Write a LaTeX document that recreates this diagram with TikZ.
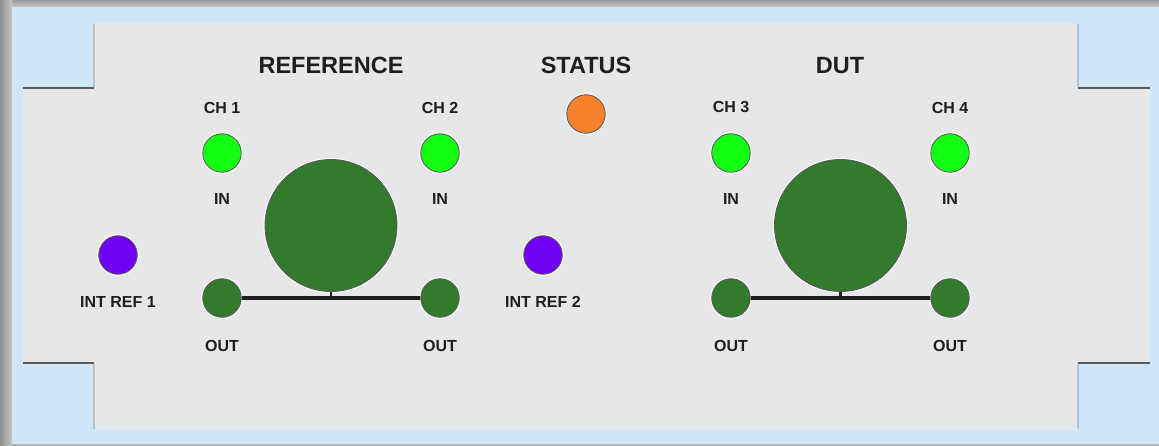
\documentclass[tikz,border=0pt]{standalone}
\usepackage{fontspec}
\setmainfont{Liberation Sans}
\definecolor{bgblue}{HTML}{CFE5F8}
\definecolor{panelgray}{HTML}{E6E7E9}
\definecolor{ledgreen}{HTML}{14FF14}
\definecolor{darkgreen}{HTML}{327A2C}
\definecolor{ledorange}{HTML}{F7802B}
\definecolor{ledpurple}{HTML}{7000F5}
\definecolor{txt}{HTML}{1E1E1E}
\definecolor{rim}{HTML}{5A5A5A}
\definecolor{sidegray}{HTML}{B7C3CC}
\tikzset{
  led/.style={circle, draw=rim, line width=0.9pt, fill=#1, minimum size=38.5pt, inner sep=0pt,
     preaction={draw=white, line width=3pt}},
  bigknob/.style={circle, draw=rim, line width=0.9pt, fill=darkgreen, minimum size=132pt, inner sep=0pt,
     preaction={draw=white, line width=3pt}},
  small/.style={inner sep=0pt, text=txt, font=\fontsize{16}{16}\selectfont\bfseries},
  head/.style={inner sep=0pt, text=txt, font=\fontsize{23.5}{23.5}\selectfont\bfseries},
  bus/.style={draw=txt, line width=3.2pt},
  stepedge/.style={draw=rim, line width=1.5pt},
  sideedge/.style={draw=sidegray, line width=1.5pt}
}
\begin{document}
\begin{tikzpicture}[x=1pt,y=-1pt]
\useasboundingbox (0,0) rectangle (1159,446);
% frame shadow and background
\fill[black!30] (0,0) rectangle (1159,446);
\shade[top color=black!38, bottom color=black!22] (0,0) rectangle (1159,7);
\shade[left color=black!45, right color=black!22] (0,0) rectangle (12,446);
\fill[bgblue] (12,7) rectangle (1159,444);
% panel
\fill[panelgray] (93,23) -- (1078,23) -- (1078,88) -- (1150,88) -- (1150,363) -- (1078,363)
  -- (1078,430) -- (93,430) -- (93,363) -- (23,363) -- (23,88) -- (93,88) -- cycle;
\draw[sideedge] (94,24) -- (94,87);
\draw[sideedge] (1078,24) -- (1078,87);
\draw[sideedge] (94,364) -- (94,429);
\draw[sideedge] (1078,364) -- (1078,429);
\draw[stepedge] (23,88) -- (94,88);
\draw[stepedge] (1078,88) -- (1150,88);
\draw[stepedge] (23,363) -- (94,363);
\draw[stepedge] (1078,363) -- (1150,363);
% headers
\node[head] (hRef) at (331,65.5) {REFERENCE};
\node[head] (hStat) at (586,65.5) {STATUS};
\node[head] (hDut) at (840,65.5) {DUT};
% status
\node[led=ledorange] (status) at (586,114) {};
% reference block
\node[small] (lch1) at (222,107.5) {CH 1};
\node[small] (lch2) at (440,107.5) {CH 2};
\node[led=ledgreen] (ch1) at (222,153) {};
\node[led=ledgreen] (ch2) at (440,153) {};
\node[small] (lin1) at (222,199) {IN};
\node[small] (lin2) at (440,199) {IN};
\node[bigknob] (knobR) at (331,225.5) {};
\node[led=darkgreen] (out1) at (222,298) {};
\node[led=darkgreen] (out2) at (440,298) {};
\draw[bus] (out1) -- (out2);
\draw[draw=txt, line width=2.2pt] (knobR.south) -- (knobR.south |- out1.center);
\node[small] (lout1) at (222,346) {OUT};
\node[small] (lout2) at (440,346) {OUT};
% DUT block
\node[small] (lch3) at (731,107.5) {CH 3};
\node[small] (lch4) at (950,107.5) {CH 4};
\node[led=ledgreen] (ch3) at (731,153) {};
\node[led=ledgreen] (ch4) at (950,153) {};
\node[small] (lin3) at (731,199) {IN};
\node[small] (lin4) at (950,199) {IN};
\node[bigknob] (knobD) at (840.5,225.5) {};
\node[led=darkgreen] (out3) at (731,298) {};
\node[led=darkgreen] (out4) at (950,298) {};
\draw[bus] (out3) -- (out4);
\draw[draw=txt, line width=2.2pt] (knobD.south) -- (knobD.south |- out3.center);
\node[small] (lout3) at (731,346) {OUT};
\node[small] (lout4) at (950,346) {OUT};
% internal references
\node[led=ledpurple] (ref1) at (118,255) {};
\node[small] (lref1) at (118,302) {INT REF 1};
\node[led=ledpurple] (ref2) at (543,255) {};
\node[small] (lref2) at (543,302) {INT REF 2};
\end{tikzpicture}
\end{document}
